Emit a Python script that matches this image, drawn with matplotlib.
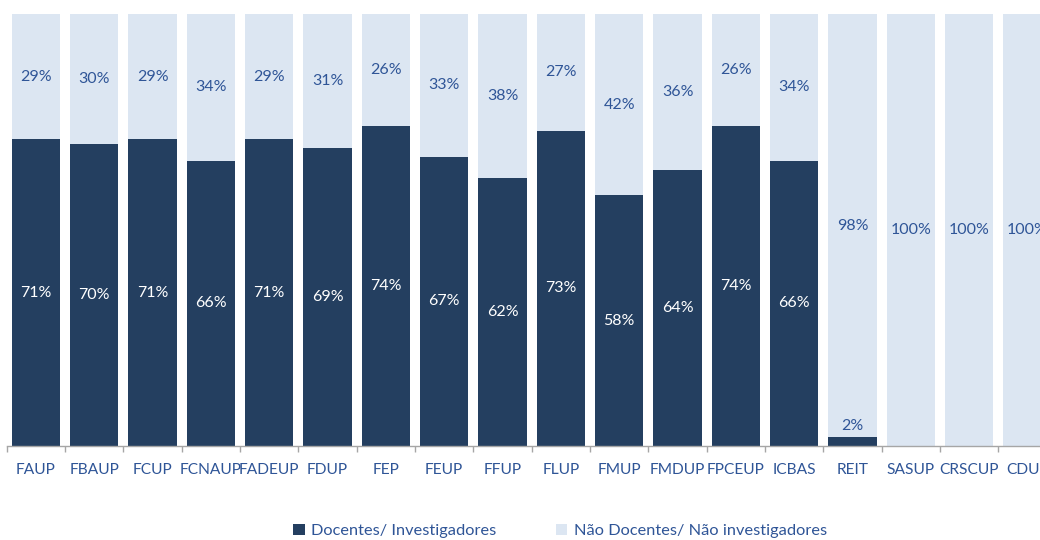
import matplotlib
matplotlib.use("Agg")
import matplotlib.pyplot as plt
from matplotlib.patches import Patch

categories = ["FAUP", "FBAUP", "FCUP", "FCNAUP", "FADEUP", "FDUP", "FEP", "FEUP",
              "FFUP", "FLUP", "FMUP", "FMDUP", "FPCEUP", "ICBAS", "REIT", "SASUP",
              "CRSCUP", "CDUP"]
docentes = [71, 70, 71, 66, 71, 69, 74, 67, 62, 73, 58, 64, 74, 66, 2, 0, 0, 0]
nao_docentes = [29, 30, 29, 34, 29, 31, 26, 33, 38, 27, 42, 36, 26, 34, 98, 100, 100, 100]

dark = "#243F60"
light = "#DCE6F2"
text_blue = "#2F5597"

plt.rcParams["font.family"] = ["Lato", "DejaVu Sans"]

fig = plt.figure(figsize=(10.4, 5.4), dpi=100)
ax = fig.add_axes([6.7 / 1040, 94 / 540, 1050 / 1040, 432 / 540])

x = list(range(len(categories)))
w = 0.83
ax.bar(x, docentes, width=w, color=dark, zorder=2)
ax.bar(x, nao_docentes, width=w, bottom=docentes, color=light, zorder=2)

fs = 11.5
for i, (d, n) in enumerate(zip(docentes, nao_docentes)):
    if d > 0:
        if d >= 8:
            ax.text(i, d / 2, f"{d}%", ha="center", va="center",
                    color="white", fontsize=fs)
        else:
            ax.text(i, d + 2.6, f"{d}%", ha="center", va="center",
                    color=text_blue, fontsize=fs)
    if n > 0:
        ax.text(i, d + n / 2, f"{n}%", ha="center", va="center",
                color=text_blue, fontsize=fs)

ax.set_xlim(-0.5, len(categories) - 0.5)
ax.set_ylim(0, 100)
ax.set_yticks([])
ax.set_xticks(x)
ax.set_xticklabels(categories, color=text_blue, fontsize=11.2)
ax.set_xticks([i - 0.5 for i in range(len(categories) + 1)], minor=True)
ax.tick_params(axis="x", which="major", length=0, pad=12)
ax.tick_params(axis="x", which="minor", length=4, color="#A6A6A6", width=1)
for s in ["top", "right", "left"]:
    ax.spines[s].set_visible(False)
ax.spines["bottom"].set_color("#A6A6A6")
ax.spines["bottom"].set_linewidth(1)
ax.spines["bottom"].set_zorder(3)

handles = [Patch(facecolor=dark, label="Docentes/ Investigadores"),
           Patch(facecolor=light, label="Não Docentes/ Não investigadores")]
fig.legend(handles=handles, loc="center", bbox_to_anchor=(560 / 1040, 1 - 531 / 540),
           ncol=2, frameon=False, fontsize=11.8, handlelength=0.7, handleheight=0.7,
           handletextpad=0.4, columnspacing=3.6, labelcolor=text_blue)

fig.savefig("out.png", dpi=100)
